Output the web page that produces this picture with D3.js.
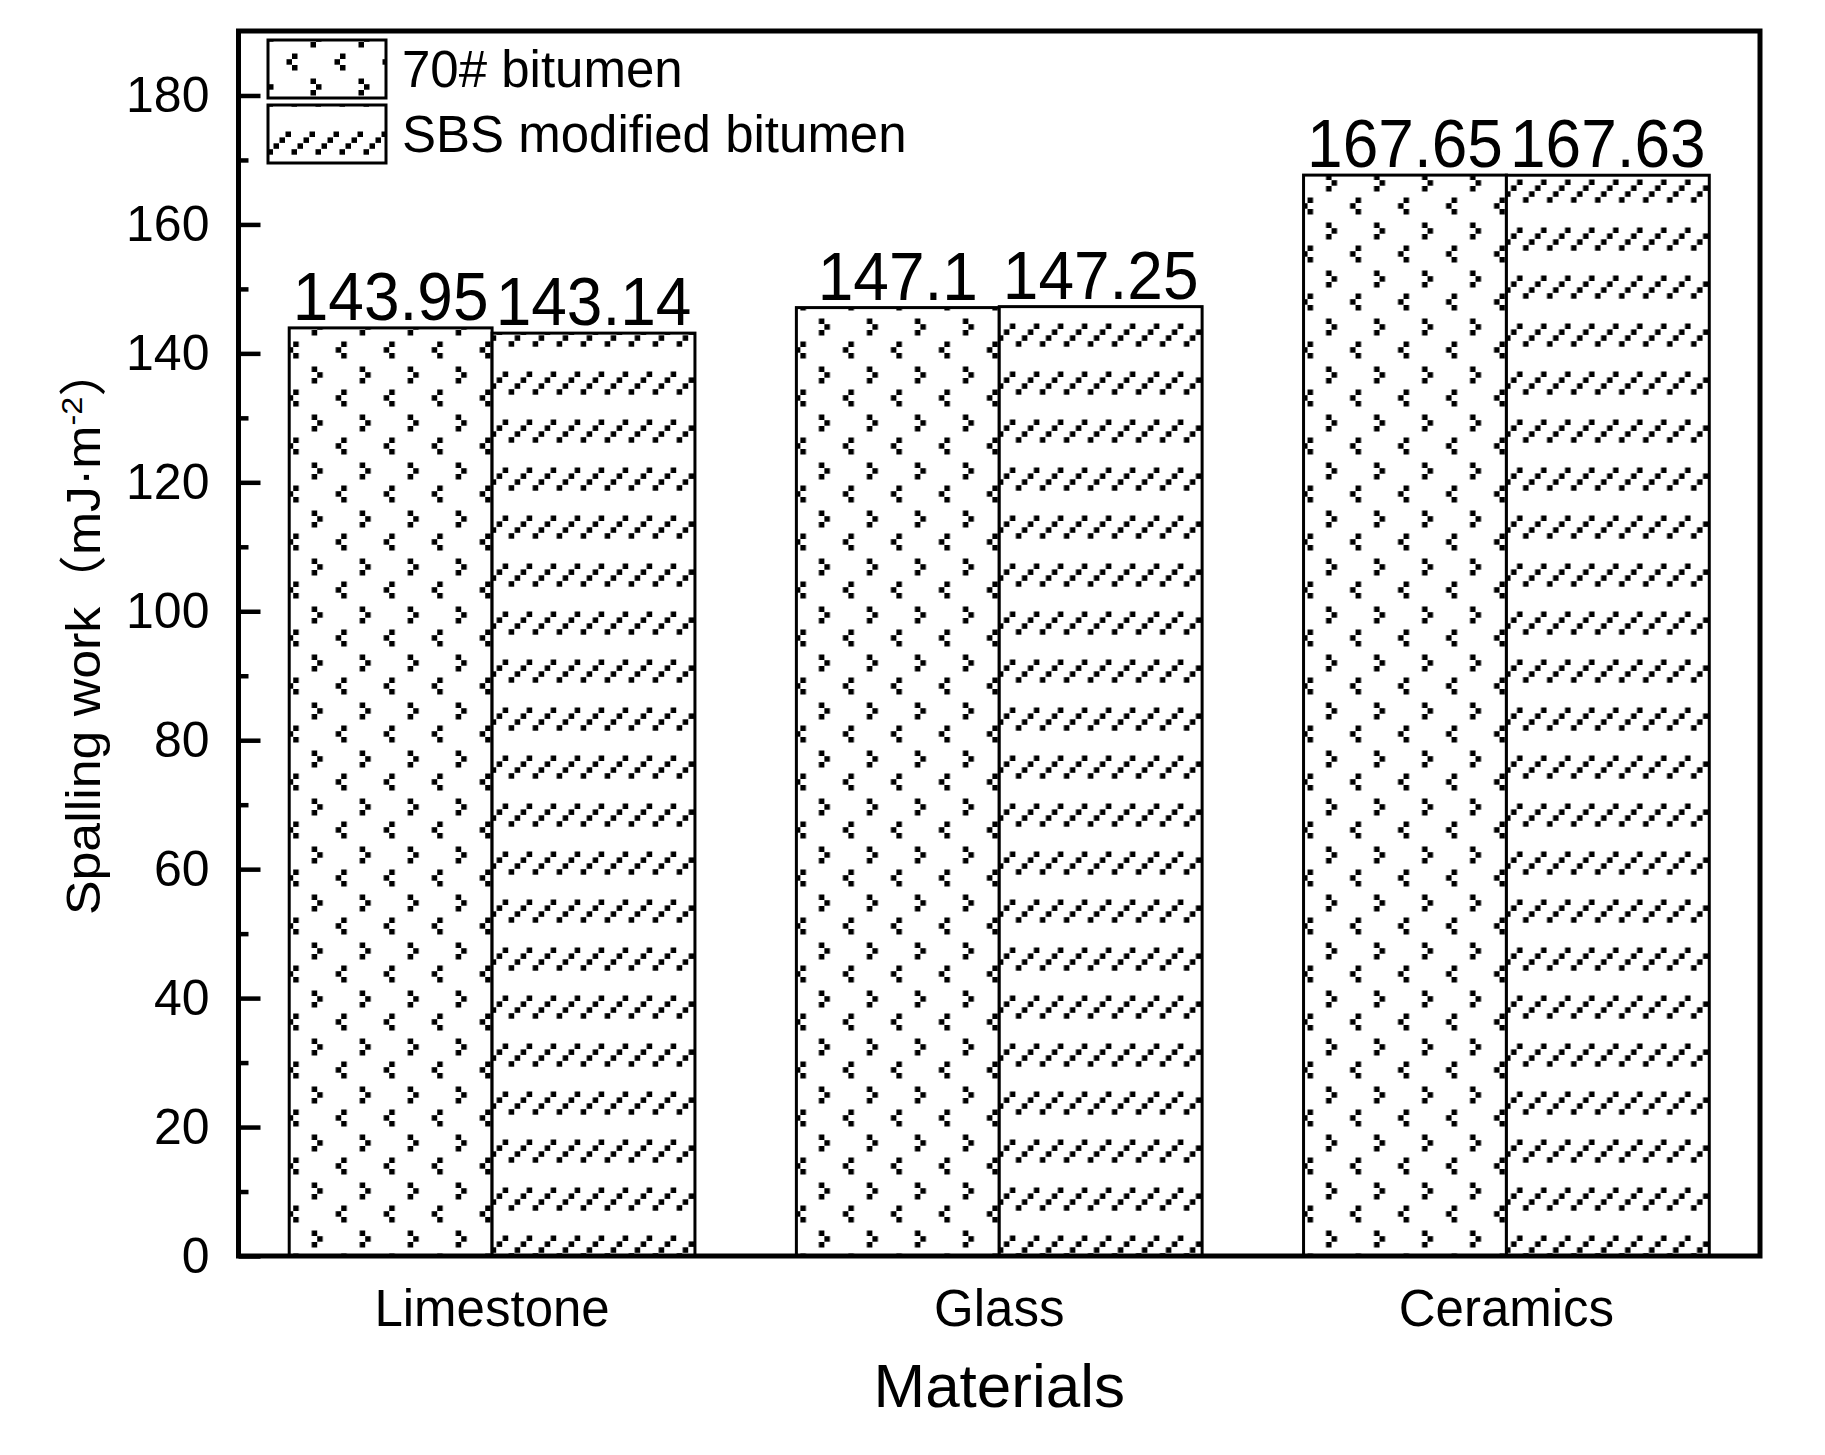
<!DOCTYPE html>
<html>
<head>
<meta charset="utf-8">
<script src="https://cdn.jsdelivr.net/npm/d3@7/dist/d3.min.js"></script>
<style>
  html, body { margin: 0; padding: 0; background: #fff; }
  svg { display: block; }
  text { font-family: "Liberation Sans", Arial, "Noto Sans CJK SC", sans-serif; fill: #000; }
</style>
</head>
<body>
<div id="chart"></div>
<script>
// data
const categories = ['Limestone', 'Glass', 'Ceramics'];
const seriesNames = ['70# bitumen', 'SBS modified bitumen'];
const bitumen70 = [143.95, 147.1, 167.65];
const sbsModified = [143.14, 147.25, 167.63];
const labels70 = ['143.95', '147.1', '167.65'];
const labelsSBS = ['143.14', '147.25', '167.63'];
const yMajorTicks = [0, 20, 40, 60, 80, 100, 120, 140, 160, 180];
const yMinorTicks = [10, 30, 50, 70, 90, 110, 130, 150, 170];

const W = 1825, H = 1455;
const plotLeft = 238.5, plotRight = 1760, plotTop = 31, plotBottom = 1256;

const svg = d3.select('#chart')
  .append('svg')
  .attr('width', W)
  .attr('height', H);

// fill patterns, anchored to the page like the original
const defs = svg.append('defs');

const dots = defs.append('pattern')
  .attr('id', 'pat70')
  .attr('patternUnits', 'userSpaceOnUse')
  .attr('x', 306).attr('y', 338)
  .attr('width', 48).attr('height', 48);
dots.append('rect').attr('width', 48).attr('height', 48).attr('fill', '#fff');
// "<" mark and ">" mark made of small squares
[[34, 3.5], [28.5, 9.2], [34, 15], [4.5, 28.5], [10, 34.2], [4.5, 40]].forEach(p => {
  dots.append('rect').attr('x', p[0]).attr('y', p[1]).attr('width', 5.5).attr('height', 5.5).attr('fill', '#000');
});

const dash = defs.append('pattern')
  .attr('id', 'patSBS')
  .attr('patternUnits', 'userSpaceOnUse')
  .attr('x', 507).attr('y', 370)
  .attr('width', 24).attr('height', 48);
dash.append('rect').attr('width', 24).attr('height', 48).attr('fill', '#fff');
[[18.5, 1.5], [12.5, 7.4], [6.5, 13.3], [0.5, 19.2]].forEach(p => {
  dash.append('rect').attr('x', p[0]).attr('y', p[1]).attr('width', 5.5).attr('height', 5.5).attr('fill', '#000');
});

const fills = ['url(#pat70)', 'url(#patSBS)'];

// scales
const x = d3.scaleBand()
  .domain(categories)
  .range([plotLeft, plotRight])
  .paddingInner(0.2)
  .paddingOuter(0.1);

const xs = d3.scaleBand()
  .domain(seriesNames)
  .range([0, x.bandwidth()]);

const y = d3.scaleLinear()
  .domain([0, 190])
  .range([plotBottom, plotTop]);

const rows = categories.map((c, i) => ({
  cat: c,
  vals: [
    { s: seriesNames[0], v: bitumen70[i], label: labels70[i] },
    { s: seriesNames[1], v: sbsModified[i], label: labelsSBS[i] }
  ]
}));

// bars
const groups = svg.append('g')
  .selectAll('g')
  .data(rows)
  .enter()
  .append('g')
  .attr('transform', d => `translate(${x(d.cat)},0)`);

groups.selectAll('rect')
  .data(d => d.vals)
  .enter()
  .append('rect')
  .attr('x', d => xs(d.s))
  .attr('y', d => y(d.v))
  .attr('width', xs.bandwidth())
  .attr('height', d => y(0) - y(d.v))
  .attr('fill', (d, i) => fills[i])
  .attr('stroke', '#000')
  .attr('stroke-width', 3);

groups.selectAll('text.value')
  .data(d => d.vals)
  .enter()
  .append('text')
  .attr('class', 'value')
  .attr('transform', d => `translate(${xs(d.s) + xs.bandwidth() / 2},${y(d.v) - 8}) scale(1,1.06)`)
  .attr('text-anchor', 'middle')
  .style('font-size', '64px')
  .text(d => d.label);

// y axis, ticks pointing inward
const yAxis = svg.append('g')
  .attr('transform', `translate(${plotLeft},0)`)
  .call(d3.axisLeft(y)
    .tickValues(yMajorTicks)
    .tickSizeInner(-22)
    .tickSizeOuter(0)
    .tickPadding(29)
    .tickFormat(d3.format('d')));
yAxis.select('.domain').remove();
yAxis.selectAll('line').attr('stroke', '#000').attr('stroke-width', 4.5);
yAxis.selectAll('text')
  .style('font-size', '50px')
  .attr('font-family', null)
  .attr('fill', '#000');

const yMinor = svg.append('g')
  .attr('transform', `translate(${plotLeft},0)`)
  .call(d3.axisLeft(y)
    .tickValues(yMinorTicks)
    .tickSizeInner(-10)
    .tickSizeOuter(0)
    .tickFormat(''));
yMinor.select('.domain').remove();
yMinor.selectAll('line').attr('stroke', '#000').attr('stroke-width', 4.5);

// x axis labels
const xAxis = svg.append('g')
  .attr('transform', `translate(0,${plotBottom})`)
  .call(d3.axisBottom(x).tickSize(0).tickPadding(0));
xAxis.select('.domain').remove();
xAxis.selectAll('text')
  .attr('y', 70)
  .attr('dy', null)
  .attr('font-family', null)
  .style('font-size', '51px');

// frame
svg.append('rect')
  .attr('x', plotLeft)
  .attr('y', plotTop)
  .attr('width', plotRight - plotLeft)
  .attr('height', plotBottom - plotTop)
  .attr('fill', 'none')
  .attr('stroke', '#000')
  .attr('stroke-width', 5);

// axis titles
svg.append('text')
  .attr('x', (plotLeft + plotRight) / 2)
  .attr('y', 1407)
  .attr('text-anchor', 'middle')
  .style('font-size', '62px')
  .text('Materials');

// title is a bit stretched along its length in the original
const yTitle = svg.append('text')
  .attr('transform', 'translate(100,630) scale(1,1.08) rotate(-90)')
  .attr('text-anchor', 'middle')
  .style('font-size', '48px');
yTitle.append('tspan').text('Spalling work（mJ·m');
yTitle.append('tspan').attr('dy', -18).style('font-size', '30px').text('-2');
yTitle.append('tspan').attr('dy', 18).text('）');

// legend
const legend = svg.append('g');
const legendRows = seriesNames.map((s, i) => ({ s, fill: fills[i], y0: [40, 105][i] }));

legend.selectAll('rect')
  .data(legendRows)
  .enter()
  .append('rect')
  .attr('x', 268)
  .attr('y', d => d.y0)
  .attr('width', 118)
  .attr('height', 58)
  .attr('fill', d => d.fill)
  .attr('stroke', '#000')
  .attr('stroke-width', 3);

legend.selectAll('text')
  .data(legendRows)
  .enter()
  .append('text')
  .attr('x', 402)
  .attr('y', d => d.y0 + 47)
  .style('font-size', '51px')
  .text(d => d.s);
</script>
</body>
</html>
